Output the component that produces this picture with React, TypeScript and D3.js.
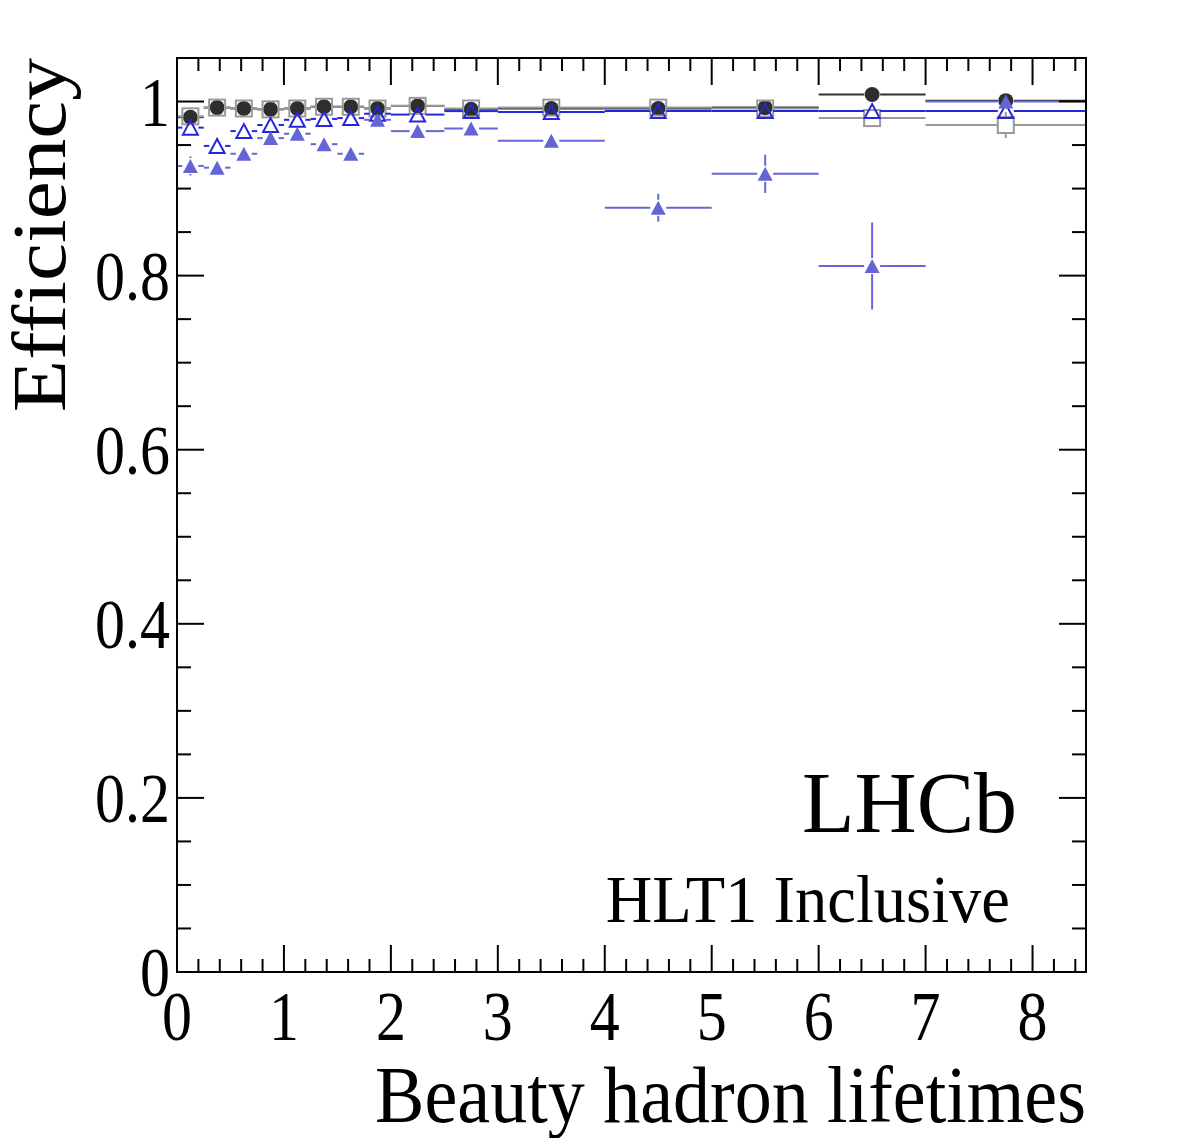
import React from "react";
import * as d3 from "d3";

// Bin edges in units of beauty hadron lifetimes
const binEdges = [0, 0.25, 0.5, 0.75, 1, 1.25, 1.5, 1.75, 2, 2.5, 3, 4, 5, 6, 7, 8.5];
// The filled-triangle series stops its last bin bar a little earlier
const binEdgesFilledTri = [0, 0.25, 0.5, 0.75, 1, 1.25, 1.5, 1.75, 2, 2.5, 3, 4, 5, 6, 7, 8.25];

// Efficiencies per bin
const circleEff = [0.982, 0.993, 0.992, 0.991, 0.992, 0.994, 0.994, 0.992, 0.995, 0.991, 0.992, 0.992, 0.993, 1.008, 1.001];
const circleErr = [0.004, 0.002, 0.002, 0.002, 0.002, 0.002, 0.002, 0.002, 0.002, 0.002, 0.002, 0.003, 0.004, 0.006, 0.006];

const squareEff = [0.983, 0.993, 0.992, 0.991, 0.992, 0.994, 0.994, 0.992, 0.995, 0.992, 0.993, 0.993, 0.992, 0.981, 0.973];
const squareErr = [0.004, 0.002, 0.002, 0.002, 0.002, 0.002, 0.002, 0.002, 0.002, 0.002, 0.002, 0.003, 0.004, 0.006, 0.015];

const openTriEff = [0.970, 0.949, 0.966, 0.973, 0.979, 0.980, 0.981, 0.986, 0.985, 0.989, 0.988, 0.989, 0.989, 0.989, 0.989];
const openTriErr = [0.005, 0.005, 0.004, 0.004, 0.003, 0.003, 0.003, 0.003, 0.003, 0.003, 0.003, 0.003, 0.004, 0.005, 0.006];

const filledTriEff = [0.926, 0.924, 0.940, 0.958, 0.963, 0.951, 0.940, 0.979, 0.966, 0.969, 0.955, 0.878, 0.917, 0.811, 1.0];
const filledTriErr = [0.011, 0.006, 0.006, 0.006, 0.006, 0.006, 0.005, 0.005, 0.005, 0.005, 0.006, 0.016, 0.022, 0.05, 0.008];

// Axis labels
const xTickValues = [0, 1, 2, 3, 4, 5, 6, 7, 8];
const yTickValues = [0, 0.2, 0.4, 0.6, 0.8, 1];
const yTickLabels = ["0", "0.2", "0.4", "0.6", "0.8", "1"];

const W = 1182;
const H = 1146;
const FONT = "'Liberation Serif', 'Times New Roman', serif";

const x = d3.scaleLinear().domain([0, 8.5]).range([177, 1086]);
const y = d3.scaleLinear().domain([0, 1.05]).range([972, 58]);

// Points sit at the centre of the common binning
const binCenters = binEdges.slice(0, -1).map((lo, i) => (lo + binEdges[i + 1]) / 2);

type Marker = "circle" | "square" | "openTri" | "filledTri";

interface Series {
  eff: number[];
  err: number[];
  edges: number[];
  color: string;
  marker: Marker;
  markerColor: string;
}

const series: Series[] = [
  { eff: circleEff, err: circleErr, edges: binEdges, color: "#333333", marker: "circle", markerColor: "#2e2e2e" },
  { eff: squareEff, err: squareErr, edges: binEdges, color: "#9a9a9a", marker: "square", markerColor: "#9a9a9a" },
  { eff: openTriEff, err: openTriErr, edges: binEdges, color: "#2626dc", marker: "openTri", markerColor: "#2626dc" },
  { eff: filledTriEff, err: filledTriErr, edges: binEdgesFilledTri, color: "#6666d8", marker: "filledTri", markerColor: "#6464d6" },
];

function Txt(props: {
  x: number; y: number; text: string; size: number; anchor?: string;
  sx?: number; sy?: number; rotate?: number;
}) {
  const { sx = 1, sy = 1, rotate = 0, anchor = "start" } = props;
  return (
    <text
      transform={`translate(${props.x},${props.y}) rotate(${rotate}) scale(${sx},${sy})`}
      fontFamily={FONT}
      fontSize={props.size}
      textAnchor={anchor}
      fill="#000"
    >
      {props.text}
    </text>
  );
}

function drawMarker(m: Marker, cx: number, cy: number, color: string, key: string) {
  if (m === "circle") return <circle key={key} cx={cx} cy={cy} r={7.5} fill={color} />;
  if (m === "square")
    return <rect key={key} x={cx - 8} y={cy - 8} width={16} height={16} fill="none" stroke={color} strokeWidth={2} />;
  const rx = 7.5, ry = 7;
  const pts = `${cx},${cy - ry} ${cx - rx},${cy + ry} ${cx + rx},${cy + ry}`;
  if (m === "openTri") return <polygon key={key} points={pts} fill="none" stroke={color} strokeWidth={2} />;
  return <polygon key={key} points={pts} fill={color} />;
}

function SeriesMarks({ s, idx }: { s: Series; idx: number }) {
  const gap = 8;
  const items: React.ReactNode[] = [];
  s.eff.forEach((v, i) => {
    const lo = s.edges[i], hi = s.edges[i + 1];
    const cx = x(binCenters[i]);
    const cy = y(v);
    const xl = x(lo), xh = x(hi);
    const yTop = y(v + s.err[i]), yBot = y(v - s.err[i]);
    const segs: [number, number, number, number][] = [];
    if (cx - gap > xl) segs.push([xl, cy, cx - gap, cy]);
    if (xh > cx + gap) segs.push([cx + gap, cy, xh, cy]);
    if (cy - yTop > gap) segs.push([cx, yTop, cx, cy - gap]);
    if (yBot - cy > gap) segs.push([cx, cy + gap, cx, yBot]);
    segs.forEach((sg, k) =>
      items.push(
        <line key={`l${idx}-${i}-${k}`} x1={sg[0]} y1={sg[1]} x2={sg[2]} y2={sg[3]} stroke={s.color} strokeWidth={2} />
      )
    );
    items.push(drawMarker(s.marker, cx, cy, s.markerColor, `m${idx}-${i}`));
  });
  return <g>{items}</g>;
}

export default function App() {
  const [x0, x1] = x.range();
  const [yb, yt] = y.range();
  const majX = 27, minX = 13;
  const majY = 27, minY = 14;

  const xMinor = d3.range(0, 8.5001, 0.2).filter((v) => Math.abs(v - Math.round(v)) > 1e-6);
  const yMinor = d3.range(0, 1.0501, 0.05).filter((v) => Math.abs(v / 0.2 - Math.round(v / 0.2)) > 1e-6);

  return (
    <svg width={W} height={H} style={{ display: "block", margin: "-8px", background: "#fff" }}>
      <rect width={W} height={H} fill="#fff" />
      {/* data */}
      {series.map((s, i) => (
        <SeriesMarks key={i} s={s} idx={i} />
      ))}

      {/* ticks on all four sides */}
      <g stroke="#000" strokeWidth={2}>
        {xTickValues.map((v) => (
          <g key={`xt${v}`}>
            <line x1={x(v)} x2={x(v)} y1={yb} y2={yb - majX} />
            <line x1={x(v)} x2={x(v)} y1={yt} y2={yt + majX} />
          </g>
        ))}
        {xMinor.map((v) => (
          <g key={`xm${v}`}>
            <line x1={x(v)} x2={x(v)} y1={yb} y2={yb - minX} />
            <line x1={x(v)} x2={x(v)} y1={yt} y2={yt + minX} />
          </g>
        ))}
        {yTickValues.map((v) => (
          <g key={`yt${v}`}>
            <line x1={x0} x2={x0 + majY} y1={y(v)} y2={y(v)} />
            <line x1={x1} x2={x1 - majY} y1={y(v)} y2={y(v)} />
          </g>
        ))}
        {yMinor.map((v) => (
          <g key={`ym${v}`}>
            <line x1={x0} x2={x0 + minY} y1={y(v)} y2={y(v)} />
            <line x1={x1} x2={x1 - minY} y1={y(v)} y2={y(v)} />
          </g>
        ))}
      </g>

      {/* frame */}
      <rect x={x0} y={yt} width={x1 - x0} height={yb - yt} fill="none" stroke="#000" strokeWidth={2} />

      {/* tick labels */}
      {xTickValues.map((v) => (
        <Txt key={`xl${v}`} x={x(v)} y={1040} text={String(v)} size={60} sy={1.15} anchor="middle" />
      ))}
      {yTickValues.map((v, i) => (
        <Txt key={`yl${v}`} x={170} y={y(v) + 24} text={yTickLabels[i]} size={60} sy={1.15} anchor="end" />
      ))}

      {/* axis titles */}
      <Txt x={1086} y={1122} text="Beauty hadron lifetimes" size={74} sy={1.08} anchor="end" />
      <Txt x={65} y={58} text="Efficiency" size={77} sx={1.11} rotate={-90} anchor="end" />

      {/* labels */}
      <Txt x={1017} y={832} text="LHCb" size={86} sy={1.02} anchor="end" />
      <Txt x={1010} y={922} text="HLT1 Inclusive" size={64.5} sy={1.05} anchor="end" />
    </svg>
  );
}
